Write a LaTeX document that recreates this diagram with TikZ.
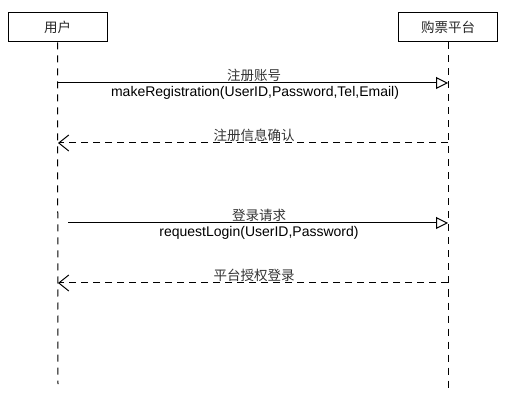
\documentclass[tikz,border=0pt]{standalone}
\usepackage{fontspec}
\setmainfont{Liberation Sans}
\newfontfamily\cjk{Noto Sans CJK SC}
\usetikzlibrary{arrows.meta}
\begin{document}
\begin{tikzpicture}[x=1pt,y=-1pt,
  actor/.style={draw,line width=1pt,minimum width=99pt,minimum height=29pt,inner sep=0pt,font=\cjk\fontsize{13.5}{15}\selectfont,text=black!85},
  lifeline/.style={line width=1pt,dash pattern=on 7pt off 6pt},
  callmsg/.style={line width=1pt,-{Triangle[open,length=12pt,width=12pt,line width=1pt]}},
  retmsg/.style={line width=1pt,dash pattern=on 7pt off 5pt,-{Straight Barb[length=10pt,width=16pt,line width=1pt]}},
  cjklabel/.style={font=\cjk\fontsize{13.5}{15}\selectfont,inner sep=0pt,text=black!80},
  siglabel/.style={font=\fontsize{14}{16}\selectfont,inner sep=0pt}]
\useasboundingbox (0,0) rectangle (516,419);
\node[actor] (user) at (57.5,27.5) {用户};
\node[actor] (plat) at (448,27.5) {购票平台};
\coordinate (userend) at (58,384);
\coordinate (platend) at (448,393);
\draw[lifeline] (user.south) -- (userend);
\draw[lifeline] (plat.south) -- (platend);
% message 1
\coordinate (m1s) at (58,83);
\coordinate (m1e) at (448,83);
\draw[callmsg] (m1s) -- (m1e);
\node[cjklabel] (l1) at (254,75) {注册账号};
\node[siglabel] (s1) at (255,92.5) {makeRegistration(UserID,Password,Tel,Email)};
% message 2
\coordinate (m2s) at (448,143);
\coordinate (m2e) at (58,143);
\draw[retmsg] (m2s) -- (m2e);
\node[cjklabel] (l2) at (254,135) {注册信息确认};
% message 3
\coordinate (m3s) at (68,223);
\coordinate (m3e) at (448,223);
\draw[callmsg] (m3s) -- (m3e);
\node[cjklabel] (l3) at (259,215) {登录请求};
\node[siglabel] (s3) at (259,232.5) {requestLogin(UserID,Password)};
% message 4
\coordinate (m4s) at (448,283);
\coordinate (m4e) at (58,283);
\draw[retmsg] (m4s) -- (m4e);
\node[cjklabel] (l4) at (254,275) {平台授权登录};
\end{tikzpicture}
\end{document}
